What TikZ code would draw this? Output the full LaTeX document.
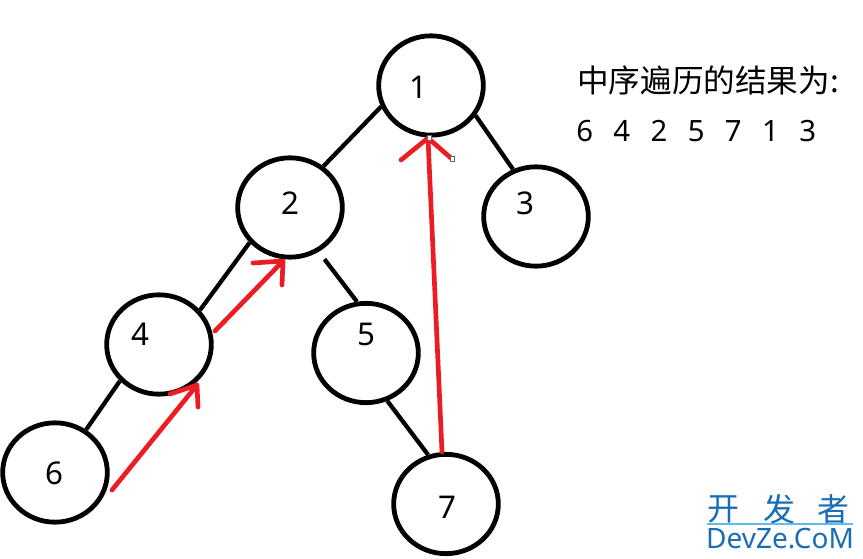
\documentclass[tikz,border=0pt]{standalone}
\usepackage{fontspec}
\setmainfont{Noto Sans}
\newfontfamily\cjkfont{Noto Sans CJK SC}
\usetikzlibrary{shapes.geometric}
\definecolor{arrowred}{HTML}{ED1C24}
\definecolor{markblue}{HTML}{1A6DB4}
\definecolor{markline}{HTML}{5CBDF0}
\tikzset{
  x=0.75pt,y=-0.75pt,
  treenode/.style={draw=black,ellipse,line width=3.6pt,minimum width=78.5pt,minimum height=74.5pt,inner sep=0pt,fill=none},
  numlabel/.style={font=\fontsize{23.5}{23.5}\selectfont,text=black,inner sep=0pt},
  edge/.style={draw=black,line width=3.2pt},
  redarrow/.style={draw=arrowred,line width=3.5pt,line cap=round,line join=round},
  handle/.style={draw=black!60,fill=white,line width=0.7pt,minimum size=3.4pt,inner sep=0pt,rectangle},
  sidetext/.style={font=\cjkfont\fontsize{23.7}{24}\selectfont,inner sep=0pt,anchor=base west},
}
\begin{document}
\begin{tikzpicture}
\useasboundingbox (0,0) rectangle (863,559);
\fill[white] (0,0) rectangle (863,559);
% tree nodes
\node[treenode] (n1) at (431,85.5) {};
\node[treenode] (n2) at (290,207.5) {};
\node[treenode] (n3) at (536,216.5) {};
\node[treenode] (n4) at (159,344.5) {};
\node[treenode] (n5) at (366,353) {};
\node[treenode] (n6) at (55,472.5) {};
\node[treenode] (n7) at (446,504) {};
% number labels
\node[numlabel] (l1) at (418,87) {1};
\node[numlabel] (l2) at (290,203) {2};
\node[numlabel] (l3) at (525,203) {3};
\node[numlabel] (l4) at (140,334) {4};
\node[numlabel] (l5) at (366,334) {5};
\node[numlabel] (l6) at (54,473) {6};
\node[numlabel] (l7) at (447,507) {7};
% edges
\draw[edge] (n1.203) -- (n2.51);
\draw[edge] (n1.-34) -- (n3.116);
\draw[edge] (n2.221) -- (n4.40);
\draw[edge,shorten <=7pt] (n2.-57) -- (n5.100);
\draw[edge] (n4.223) -- (n6.54);
\draw[edge] (n5.-66) -- (n7.110);
% red arrows
\coordinate (a1s) at (442,452);
\coordinate (a1t) at (428,138);
\coordinate (a1l) at (401,160);
\coordinate (a1r) at (452,159);
\draw[redarrow] (a1s) -- (a1t) (a1l) -- (a1t) -- (a1r);
\coordinate (a2s) at (112,490);
\coordinate (a2t) at (197,385);
\coordinate (a2l) at (170,394);
\coordinate (a2r) at (198,407);
\draw[redarrow] (a2s) -- (a2t) (a2l) -- (a2t) -- (a2r);
\coordinate (a3s) at (215,331);
\coordinate (a3t) at (283,261);
\coordinate (a3l) at (253,263);
\coordinate (a3r) at (282,285);
\draw[redarrow] (a3s) -- (a3t) (a3l) -- (a3t) -- (a3r);
\node[handle] (h1) at (429.5,138) {};
\node[handle] (h2) at (452.5,159) {};
% side text
\node[sidetext] (t1) at (577,93) {中序遍历的结果为:};
\node[sidetext,font=\fontsize{22}{22}\selectfont] (t2) at (576,142) {6\hspace{15.3pt}4\hspace{15.3pt}2\hspace{15.3pt}5\hspace{15.3pt}7\hspace{15.3pt}1\hspace{15.3pt}3};
% watermark
\node[font=\cjkfont\fontsize{24}{24}\selectfont,text=markblue,inner sep=0pt] (w1) at (723,509) {开};
\node[font=\cjkfont\fontsize{24}{24}\selectfont,text=markblue,inner sep=0pt] (w2) at (779,509) {发};
\node[font=\cjkfont\fontsize{24}{24}\selectfont,text=markblue,inner sep=0pt] (w3) at (833,509) {者};
\draw[markline,line width=0.8pt] (707,524) -- (853,524);
\node[font=\fontsize{21}{21}\selectfont,text=markblue,inner sep=0pt,anchor=base] (w4) at (780,548) {DevZe.CoM};
\end{tikzpicture}
\end{document}
